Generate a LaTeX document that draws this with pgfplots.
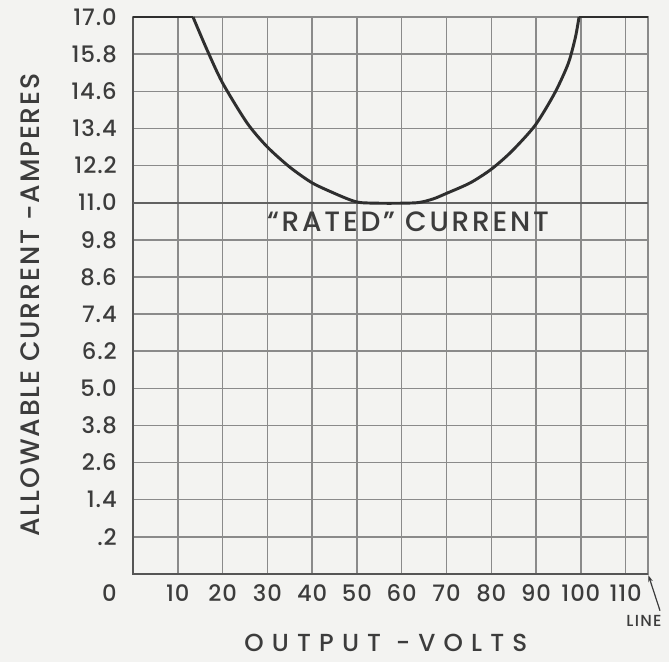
\documentclass[border=0pt]{standalone}
\usepackage{pgfplots}
\pgfplotsset{compat=1.18}
\usepackage{fontspec}
\setmainfont{Poppins Medium}
\usetikzlibrary{calc,arrows.meta}
\definecolor{bg}{HTML}{F3F3F1}
\definecolor{gridc}{HTML}{8A8A8A}
\definecolor{framec}{HTML}{555555}
\definecolor{curvec}{HTML}{2E2E2E}
\definecolor{textc}{HTML}{3C3C3C}
\begin{document}
\begin{tikzpicture}
\path[use as bounding box, fill=bg] (-99.75pt,-66pt) rectangle (402pt,430.5pt);
\begin{axis}[
  at={(0pt,0pt)}, anchor=south west,
  width=386.25pt, height=417.75pt, scale only axis,
  xmin=0, xmax=115, ymin=-1, ymax=17,
  xtick={10,20,30,40,50,60,70,80,90,100,110},
  xticklabels={10,20,30,40,50,60,70,80,90,100,110},
  ytick={-1,0.2,1.4,2.6,3.8,5.0,6.2,7.4,8.6,9.8,11.0,12.2,13.4,14.6,15.8,17.0},
  yticklabels={,.2,1.4,2.6,3.8,5.0,6.2,7.4,8.6,9.8,11.0,12.2,13.4,14.6,15.8,17.0},
  grid=major,
  major grid style={color=gridc, line width=1.1pt},
  major tick length=0pt,
  axis line style={color=gridc, line width=1.1pt},
  /pgf/number format/assume math mode=true,
  tick label style={font=\fontsize{17}{17}\selectfont\addfontfeature{LetterSpace=4}, text=textc},
  xticklabel style={anchor=center, inner sep=0pt, yshift=-14.25pt},
  yticklabel style={anchor=east, inner sep=0pt, xshift=-12pt},
  xlabel={OUTPUT\hspace{0.6em}-VOLTS},
  ylabel={ALLOWABLE CURRENT -AMPERES},
  xlabel style={at={($(rel axis cs:0.491,0)+(0,-52pt)$)}, anchor=center, inner sep=0pt, font=\fontsize{18.5}{18.5}\selectfont\addfontfeature{LetterSpace=33}, text=textc},
  ylabel style={at={($(rel axis cs:0,0.483)+(-77.25pt,0)$)}, anchor=center, inner sep=0pt, font=\fontsize{20}{20}\selectfont\addfontfeature{LetterSpace=7}, text=textc},
  clip=false,
]
% frame emphasis
\draw[framec, line width=2.2pt] (rel axis cs:0,1) -- (rel axis cs:0,0) -- (rel axis cs:1,0);
\draw[color=gridc!70!black, line width=1.3pt] (axis cs:0,11) -- (axis cs:115,11);
% flat segments
\addplot[curvec, line width=2.2pt, sharp plot] coordinates {(0,17) (13.4,17)};
\addplot[curvec, line width=2.2pt, sharp plot] coordinates {(99.6,17) (115,17)};
% curve
\addplot[curvec, line width=2.2pt, smooth, tension=0.45] coordinates {
(13.4,17) (16.5,15.95) (20,14.87) (25.5,13.57) (30,12.80) (35,12.15) (40,11.64)
(45,11.3) (48.5,11.09) (51,11.0) (57,10.98) (63.5,11.0) (67,11.12) (70,11.3)
(75.3,11.64) (80,12.08) (84.5,12.65) (89.8,13.5) (94.2,14.55) (97.2,15.5)
(98.8,16.35) (99.6,17)};
\node[font=\fontsize{21}{21}\selectfont\addfontfeature{LetterSpace=10}, text=textc] at (axis cs:61.4,10.37) {“RATED” CURRENT};
\node[anchor=east, inner sep=0pt, font=\fontsize{17}{17}\selectfont, text=textc] at ($(rel axis cs:0,0)+(-12pt,-14.25pt)$) {0};
\node[font=\fontsize{12}{12}\selectfont\addfontfeature{LetterSpace=8}, text=textc] at ($(rel axis cs:0,0)+(383.25pt,-35.25pt)$) {LINE};
\draw[textc, line width=0.9pt, -{Stealth[length=5pt,width=3.5pt]}] ($(rel axis cs:0,0)+(395.25pt,-27.5pt)$) -- ($(rel axis cs:0,0)+(386.6pt,-1pt)$);
\end{axis}
\end{tikzpicture}
\end{document}
